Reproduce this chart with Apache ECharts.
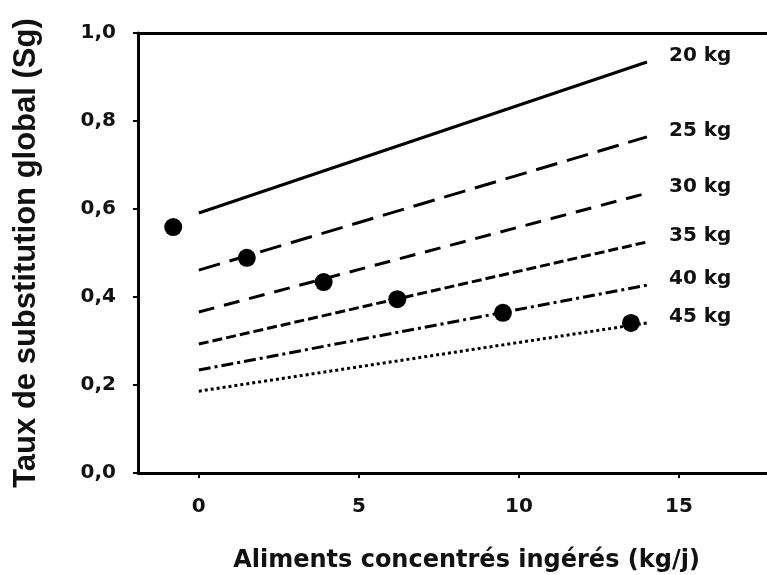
<!DOCTYPE html>
<html>
<head>
<meta charset="UTF-8">
<title></title>
<script type="text/javascript" src="https://cdn.jsdelivr.net/npm/echarts@6/dist/echarts.min.js"></script>
</head>
<body style="margin:0">
<div id="main" style="width: 767px;height: 575px;"></div>
<script type="text/javascript">
var myChart = echarts.init(document.getElementById("main"));

// droites Sg = f(concentré) pour chaque niveau de lait
var weights = ['20 kg', '25 kg', '30 kg', '35 kg', '40 kg', '45 kg'];
var xStart = 0, xEnd = 14;
var yStart = [0.591, 0.461, 0.366, 0.293, 0.234, 0.186];
var yEnd = [0.934, 0.764, 0.636, 0.525, 0.427, 0.341];
var dashes = ['solid', [22, 10], [16, 10], [10, 4], [12, 4, 3, 4], [3, 3]];

// points observés
var ptX = [-0.8, 1.5, 3.9, 6.2, 9.5, 13.5];
var ptY = [0.559, 0.489, 0.434, 0.395, 0.364, 0.341];

var xTicks = [0, 5, 10, 15];
var font = 'DejaVu Sans, sans-serif';

var series = [];
for (var i = 0; i < weights.length; i++) {
    series.push({
        name: weights[i],
        type: 'line',
        data: [[xStart, yStart[i]], [xEnd, yEnd[i]]],
        showSymbol: false,
        lineStyle: { color: '#000', width: 3, type: dashes[i] },
        endLabel: {
            show: true,
            formatter: '{a}',
            distance: 22,
            offset: [0, -6],
            color: '#111',
            fontFamily: font,
            fontWeight: 'bold',
            fontSize: 20
        },
        animation: false
    });
}
var pts = [];
for (var j = 0; j < ptX.length; j++) pts.push([ptX[j], ptY[j]]);
series.push({
    type: 'scatter',
    data: pts,
    symbolSize: 18,
    itemStyle: { color: '#000', opacity: 1 },
    z: 5,
    animation: false
});

myChart.setOption({
    backgroundColor: '#fff',
    grid: { left: 138, right: 0, top: 33, bottom: 102, outerBoundsMode: 'none', containLabel: false },
    xAxis: [{
        type: 'value',
        min: -1.9,
        max: 17.75,
        splitLine: { show: false },
        axisLine: { lineStyle: { color: '#000', width: 3 } },
        axisTick: { customValues: xTicks, length: 5, lineStyle: { color: '#000', width: 2 } },
        axisLabel: { customValues: xTicks, margin: 24, color: '#111', fontFamily: font, fontWeight: 'bold', fontSize: 20 },
        name: 'Aliments concentrés ingérés (kg/j)',
        nameLocation: 'middle',
        nameGap: 76,
        nameTextStyle: { color: '#111', fontFamily: font, fontWeight: 'bold', fontSize: 24, padding: [0, 0, 0, 28] }
    }, {
        type: 'value',
        position: 'top',
        min: -1.9,
        max: 17.75,
        splitLine: { show: false },
        axisLine: { show: true, lineStyle: { color: '#000', width: 3 } },
        axisTick: { show: false },
        axisLabel: { show: false }
    }],
    yAxis: {
        type: 'value',
        min: 0,
        max: 1,
        interval: 0.2,
        splitLine: { show: false },
        axisLine: { show: true, onZero: false, lineStyle: { color: '#000', width: 3 } },
        axisTick: { show: true, length: 5, lineStyle: { color: '#000', width: 2 } },
        axisLabel: {
            margin: 22,
            color: '#111',
            fontFamily: font,
            fontWeight: 'bold',
            fontSize: 20,
            formatter: function (v) { return v.toFixed(1).replace('.', ','); }
        },
        name: 'Taux de substitution global (Sg)',
        nameLocation: 'middle',
        nameGap: 96,
        nameTextStyle: { color: '#111', fontFamily: 'Liberation Sans, Arial, sans-serif', fontWeight: 'bold', fontSize: 31 }
    },
    series: series
});
</script>
</body>
</html>
